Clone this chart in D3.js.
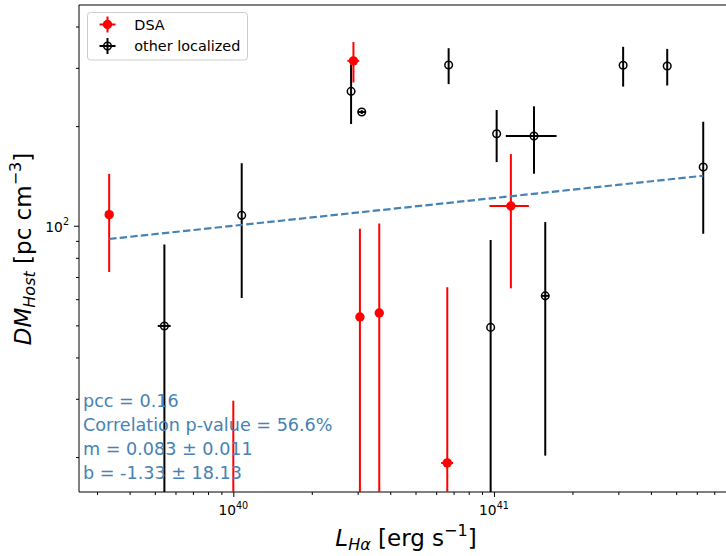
<!DOCTYPE html>
<html>
<head>
<meta charset="utf-8">
<script src="https://cdn.jsdelivr.net/npm/d3@7"></script>
<style>
  html, body { margin: 0; padding: 0; background: #fff; }
  svg { display: block; font-family: "DejaVu Sans", sans-serif; }
  text { white-space: pre; }
</style>
</head>
<body>
<div id="chart"></div>
<script>
// ---------------- data ----------------
// DSA sample
const dsaL      = [3.34e39, 2.89e40, 3.06e40, 3.63e40, 6.62e40, 1.161e41, 1.0e40];
const dsaLerr   = [0, 0.15e40, 0, 0, 0.35e40, 2.0e40, 0];
const dsaDM     = [108, 315, 53, 54.5, 19.2, 114.7, 8];
const dsaDMerr  = [35.5, 44, 45, 47, 46, 50, 21.6];

// other localized FRBs
const otherL     = [5.44e39, 1.077e40, 2.83e40, 3.11e40, 6.70e40, 9.71e40, 1.024e41, 1.424e41, 1.573e41, 3.13e41, 4.62e41, 6.35e41];
const otherLerr  = [0.31e39, 0, 0, 0.11e40, 0, 0, 0, 0.314e41, 0.056e41, 0, 0, 0];
const otherDM    = [49.8, 107.5, 254.7, 220.6, 305.9, 49.3, 189.7, 186.6, 61.4, 305.3, 303.8, 150.4];
const otherDMerr = [38, 47, 51.7, 3, 38, 41.2, 34, 43, 41.2, 42, 38.5, 55.8];

// best-fit power law (end points of the dashed line)
const fitL  = [3.34e39, 6.35e41];
const fitDM = [91.2, 141.6];

// annotation text
const statLines = ["pcc = 0.16", "Correlation p-value = 56.6%", "m = 0.083 \u00b1 0.011", "b = -1.33 \u00b1 18.13"];

// axis ticks
const xMajorExp = [40, 41];
const yMajorExp = [2];
const xDomain = [Math.pow(10, 39.408), Math.pow(10, 41.917)];
const yDomain = [Math.pow(10, 1.1955), Math.pow(10, 2.667)];

const legendLabels = ["DSA", "other localized"];
const legendColors = ["#ff0000", "#000000"];

// ---------------- layout ----------------
const W = 726, H = 556;
const pLeft = 79, pRight = 733, pTop = 5, pBottom = 492;

const svg = d3.select("#chart").append("svg").attr("width", W).attr("height", H);

const x = d3.scaleLog().domain(xDomain).range([pLeft, pRight]);
const y = d3.scaleLog().domain(yDomain).range([pBottom, pTop]);

svg.append("defs").append("clipPath").attr("id", "plotclip")
  .append("rect").attr("x", pLeft).attr("y", pTop).attr("width", pRight - pLeft).attr("height", pBottom - pTop);

// ---------------- axes ----------------
const xTicksMinor = [];
const xTicksMajor = xMajorExp.map(e => Math.pow(10, e));
for (let e = 39; e <= 41; e++) for (let k = 2; k <= 9; k++) {
  const v = k * Math.pow(10, e);
  if (v >= xDomain[0] && v <= xDomain[1]) xTicksMinor.push(v);
}
const yTicksMinor = [];
const yTicksMajor = yMajorExp.map(e => Math.pow(10, e));
for (let e = 1; e <= 2; e++) for (let k = 2; k <= 9; k++) {
  const v = k * Math.pow(10, e);
  if (v >= yDomain[0] && v <= yDomain[1]) yTicksMinor.push(v);
}

const xAxisMinor = d3.axisBottom(x).tickValues(xTicksMinor).tickSize(3).tickFormat("");
const xAxisMajor = d3.axisBottom(x).tickValues(xTicksMajor).tickSize(5).tickFormat("");
const yAxisMinor = d3.axisLeft(y).tickValues(yTicksMinor).tickSize(3).tickFormat("");
const yAxisMajor = d3.axisLeft(y).tickValues(yTicksMajor).tickSize(5).tickFormat("");

function styleAxis(g) {
  g.select(".domain").remove();
  g.selectAll(".tick line").attr("stroke", "#000").attr("stroke-width", 1);
}
svg.append("g").attr("transform", `translate(0,${pBottom})`).call(xAxisMinor).call(styleAxis);
svg.append("g").attr("transform", `translate(0,${pBottom})`).call(xAxisMajor).call(styleAxis);
svg.append("g").attr("transform", `translate(${pLeft},0)`).call(yAxisMinor).call(styleAxis);
svg.append("g").attr("transform", `translate(${pLeft},0)`).call(yAxisMajor).call(styleAxis);

// tick labels as 10^n
xMajorExp.forEach(e => {
  const t = svg.append("text").attr("x", x(Math.pow(10, e))).attr("y", 515)
    .attr("text-anchor", "middle").attr("font-size", 13.8).attr("fill", "#000");
  t.append("tspan").text("10");
  t.append("tspan").attr("dy", -6.5).attr("font-size", 9.6).text(String(e));
});
yMajorExp.forEach(e => {
  const t = svg.append("text").attr("x", 69).attr("y", y(Math.pow(10, e)) + 6)
    .attr("text-anchor", "end").attr("font-size", 13.8).attr("fill", "#000");
  t.append("tspan").text("10");
  t.append("tspan").attr("dy", -6.5).attr("font-size", 9.6).text(String(e));
});

// spines
svg.append("line").attr("x1", pLeft).attr("x2", pLeft).attr("y1", pTop).attr("y2", pBottom).attr("stroke", "#000").attr("stroke-width", 1);
svg.append("line").attr("x1", pLeft).attr("x2", pRight).attr("y1", pBottom).attr("y2", pBottom).attr("stroke", "#000").attr("stroke-width", 1);
svg.append("line").attr("x1", pLeft).attr("x2", pRight).attr("y1", pTop).attr("y2", pTop).attr("stroke", "#000").attr("stroke-width", 1);
svg.append("line").attr("x1", pRight).attr("x2", pRight).attr("y1", pTop).attr("y2", pBottom).attr("stroke", "#000").attr("stroke-width", 1);

// ---------------- marks ----------------
const plot = svg.append("g").attr("clip-path", "url(#plotclip)");

function yLow(v) { return v > 0 ? y(v) : pBottom + 20; }

function drawSeries(L, Lerr, DM, DMerr, color, filled) {
  const g = plot.append("g");
  const idx = d3.range(L.length);
  g.selectAll("line.ve").data(idx).enter().append("line")
    .attr("x1", i => x(L[i])).attr("x2", i => x(L[i]))
    .attr("y1", i => yLow(DM[i] - DMerr[i])).attr("y2", i => y(DM[i] + DMerr[i]))
    .attr("stroke", color).attr("stroke-width", 2);
  g.selectAll("line.he").data(idx.filter(i => Lerr[i] > 0)).enter().append("line")
    .attr("x1", i => x(L[i] - Lerr[i])).attr("x2", i => x(L[i] + Lerr[i]))
    .attr("y1", i => y(DM[i])).attr("y2", i => y(DM[i]))
    .attr("stroke", color).attr("stroke-width", 2);
  g.selectAll("circle").data(idx).enter().append("circle")
    .attr("cx", i => x(L[i])).attr("cy", i => y(DM[i]))
    .attr("r", filled ? 4.7 : 3.8)
    .attr("fill", filled ? color : "none")
    .attr("stroke", color).attr("stroke-width", filled ? 0 : 1.5);
}
drawSeries(otherL, otherLerr, otherDM, otherDMerr, "#000000", false);
drawSeries(dsaL, dsaLerr, dsaDM, dsaDMerr, "#ff0000", true);

// fit line
const fitData = fitL.map((v, i) => [v, fitDM[i]]);
plot.append("path").datum(fitData)
  .attr("d", d3.line().x(d => x(d[0])).y(d => y(d[1])))
  .attr("fill", "none").attr("stroke", "#4682b4").attr("stroke-width", 2.2)
  .attr("stroke-dasharray", "7.4,3.2");

// stats text
statLines.forEach((s, i) => {
  svg.append("text").attr("x", 83).attr("y", 406.5 + i * 24.2)
    .attr("font-size", 17.6).attr("fill", "#4682b4").text(s);
});

// ---------------- axis labels ----------------
const xl = svg.append("text").attr("x", 406).attr("y", 546).attr("text-anchor", "middle")
  .attr("font-size", 23).attr("fill", "#000");
xl.append("tspan").attr("font-style", "italic").text("L");
xl.append("tspan").attr("font-style", "italic").attr("font-size", 16).attr("dy", 4).text("H\u03b1");
xl.append("tspan").attr("dy", -4).text(" [erg s");
xl.append("tspan").attr("font-size", 16).attr("dy", -10).text("\u22121");
xl.append("tspan").attr("dy", 10).text("]");

const yl = svg.append("text").attr("transform", "translate(31,249) rotate(-90)")
  .attr("text-anchor", "middle").attr("font-size", 23).attr("fill", "#000");
yl.append("tspan").attr("font-style", "italic").text("DM");
yl.append("tspan").attr("font-style", "italic").attr("font-size", 16).attr("dy", 4).text("Host");
yl.append("tspan").attr("dy", -4).text(" [pc cm");
yl.append("tspan").attr("font-size", 16).attr("dy", -10).text("\u22123");
yl.append("tspan").attr("dy", 10).text("]");

// ---------------- legend ----------------
const lg = svg.append("g");
lg.append("rect").attr("x", 87.5).attr("y", 12.5).attr("width", 160).attr("height", 47.5)
  .attr("rx", 3).attr("fill", "#fff").attr("fill-opacity", 0.8)
  .attr("stroke", "#cccccc").attr("stroke-width", 1);
legendLabels.forEach((lab, i) => {
  const cy = 24.5 + i * 21.5, cx = 107.5, c = legendColors[i];
  lg.append("line").attr("x1", cx).attr("x2", cx).attr("y1", cy - 8).attr("y2", cy + 8).attr("stroke", c).attr("stroke-width", 2);
  lg.append("line").attr("x1", cx - 8).attr("x2", cx + 8).attr("y1", cy).attr("y2", cy).attr("stroke", c).attr("stroke-width", 2);
  lg.append("circle").attr("cx", cx).attr("cy", cy).attr("r", i === 0 ? 4.7 : 3.8)
    .attr("fill", i === 0 ? c : "none").attr("stroke", c).attr("stroke-width", i === 0 ? 0 : 1.5);
  lg.append("text").attr("x", 134.3).attr("y", cy + 5).attr("font-size", 14.4).attr("fill", "#000").text(lab);
});
</script>
</body>
</html>
